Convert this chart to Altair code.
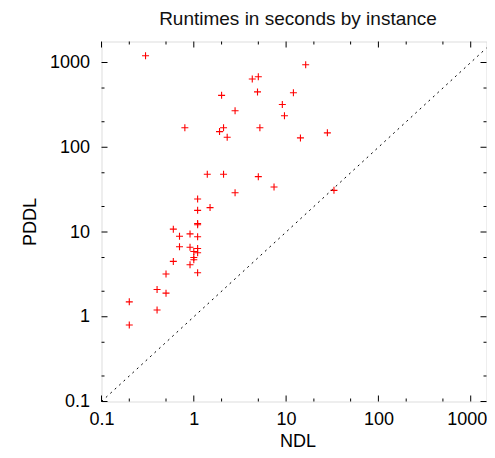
import altair as alt
import pandas as pd

# Runtimes (seconds) per instance: NDL (x) vs PDDL (y)
ndl = [0.30, 16.3, 4.3, 5.0, 2.0, 4.9, 12.0, 2.8, 9.1, 9.6, 0.80, 1.9, 2.1, 2.3, 5.2,
       14.3, 28.0, 1.4, 2.1, 5.0, 7.4, 33.0, 2.8, 1.1, 1.1, 1.5, 1.1, 1.1, 0.60, 0.70,
       0.91, 1.1, 0.70, 0.91, 1.1, 1.0, 1.1, 1.0, 1.0, 0.60, 0.91, 1.1, 0.50, 0.40,
       0.50, 0.40, 0.20, 0.20]
pddl = [1200, 940, 640, 680, 410, 450, 440, 270, 320, 235, 170, 153, 170, 131, 170,
        129, 148, 48, 48, 45, 34, 31, 29, 24.5, 18, 19.4, 12.6, 12.2, 10.8, 8.9,
        9.5, 8.8, 6.7, 6.6, 6.4, 5.9, 5.7, 5.0, 4.7, 4.5, 4.1, 3.3, 3.2, 2.1,
        1.9, 1.2, 1.5, 0.8]

x_min, x_max = 0.1, 1483
y_min, y_max = 0.1, 1770
diag = [x_min, x_max]
major_ticks = [0.1, 1, 10, 100, 1000]
minor_ticks = [0.2, 0.5, 2, 5, 20, 50, 200, 500]

W, H = 385, 360
FONT = "Liberation Sans"

pts = pd.DataFrame({"NDL": ndl, "PDDL": pddl})
dg = pd.DataFrame({"NDL": diag, "PDDL": diag})
maj = pd.DataFrame({"v": major_ticks})
mnr = pd.DataFrame({"v": minor_ticks})

xscale = alt.Scale(type="log", domain=[x_min, x_max], nice=False)
yscale = alt.Scale(type="log", domain=[y_min, y_max], nice=False)

xaxis = alt.Axis(values=major_ticks, format="~g", grid=False, ticks=False, domain=False,
                 labelFont=FONT, labelFontSize=18, labelColor="#000", labelPadding=9,
                 labelFlush=False, labelOverlap=False,
                 labelOffset=alt.condition("datum.value >= 1000", alt.value(-4), alt.value(0)),
                 title="NDL", titleFont=FONT, titleFontSize=18, titleFontWeight="normal",
                 titleColor="#000", titleX=(W - 1) / 2 + 4, titleY=40, titleBaseline="middle",
                 titleAlign="center")
yaxis = alt.Axis(values=major_ticks, format="~g", grid=False, ticks=False, domain=False,
                 labelFont=FONT, labelFontSize=18, labelColor="#000", labelPadding=12,
                 labelFlush=False, labelOverlap=False, labelBaseline="middle",
                 title="PDDL", titleFont=FONT, titleFontSize=18, titleFontWeight="normal",
                 titleColor="#000", titleX=-71, titleY=H / 2, titleAngle=270,
                 titleBaseline="middle", titleAlign="center")

points = alt.Chart(pts).mark_point(
    shape="M-1,0L1,0M0,-1L0,1", size=49, filled=False, stroke="#ff0000", strokeWidth=1.1,
    opacity=1
).encode(
    x=alt.X("NDL:Q", scale=xscale, axis=xaxis),
    y=alt.Y("PDDL:Q", scale=yscale, axis=yaxis),
)

diagonal = alt.Chart(dg).mark_line(
    color="#000", strokeWidth=1, strokeDash=[2, 4]
).encode(
    x=alt.X("NDL:Q", scale=xscale, axis=xaxis),
    y=alt.Y("PDDL:Q", scale=yscale, axis=yaxis),
)


def xticks(df, y0, y1):
    return alt.Chart(df).mark_rule(color="#000", strokeWidth=1).encode(
        x=alt.X("v:Q", scale=xscale, axis=xaxis),
        y=alt.value(y0), y2=alt.value(y1))


def yticks(df, x0, x1):
    return alt.Chart(df).mark_rule(color="#000", strokeWidth=1).encode(
        y=alt.Y("v:Q", scale=yscale, axis=yaxis),
        x=alt.value(x0), x2=alt.value(x1))


ML, mL = 6, 3
tick_layers = [
    xticks(maj, H, H - ML), xticks(mnr, H, H - mL),
    xticks(maj, 0, ML), xticks(mnr, 0, mL),
    yticks(maj, 0, ML), yticks(mnr, 0, mL),
    yticks(maj, W, W - ML), yticks(mnr, W, W - mL),
]

chart = alt.layer(points, diagonal, *tick_layers).properties(
    width=W, height=H,
    title=alt.TitleParams("Runtimes in seconds by instance", font=FONT, fontSize=19,
                          fontWeight="normal", color="#111", anchor="middle", offset=12,
                          dx=4),
    autosize=alt.AutoSizeParams(type="none"),
    padding={"left": 93.5, "top": 33.5, "right": 0.5, "bottom": 48.5},
).configure_view(
    stroke="#000", strokeWidth=1
).configure(background="white")

chart.save("out.html", embed_options={"renderer": "svg", "actions": False})
